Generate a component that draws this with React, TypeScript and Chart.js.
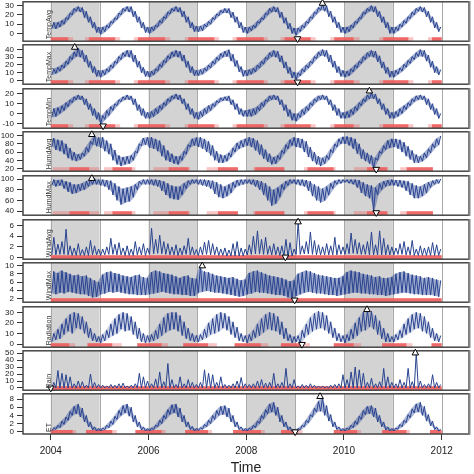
import React, { useEffect, useRef } from "react";
import { Chart, registerables } from "chart.js";

Chart.register(...registerables);

// ---------- categories ----------
const PANEL_NAMES = ["TempAvg", "TempMax", "TempMin", "HumdAvg", "HumdMax", "WindAvg", "WindMax", "Radiation", "Rain", "ET"];
const START_YEAR = 2004;
const X_TICKS = [2004, 2006, 2008, 2010, 2012];
const YEAR_LINES = [2004, 2005, 2006, 2007, 2008, 2009, 2010, 2011, 2012];
const SHADED_YEARS = [[2004, 2005], [2006, 2007], [2008, 2009], [2010, 2011]];

// y tick labels per panel
const Y_TICKS = [
  [0, 10, 20, 30],
  [0, 10, 20, 30, 40],
  [-10, 0, 10, 20],
  [20, 40, 60, 80, 100],
  [40, 60, 80, 100],
  [0, 2, 4, 6],
  [2, 4, 6, 8, 10],
  [0, 10, 20, 30],
  [0, 10, 20, 30, 40, 50],
  [0, 2, 4, 6, 8],
];
const Y_MIN = [-8.27, -5, -15.0, 13.7, 32.25, -0.31, 1.06, -3.0, -3.16, -0.55];
const Y_MAX = [34.1, 46.25, 25.2, 109.1, 106.1, 7.08, 10.7, 35.2, 53.2, 9.28];

// ---------- monthly low / high readings, Jan 2004 .. Dec 2011 ----------
const tempAvgLo = [
  5, 5, 7, 10, 15, 20, 24, 23, 17, 12, 6, 1,
  -1, 2, 6, 11, 15, 20, 24, 23, 18, 12, 6, 1,
  0, 3, 7, 11, 16, 21, 24, 23, 18, 12, 6, 2,
  2, 3, 7, 10, 15, 19, 22, 22, 17, 12, 6, 1,
  0, 3, 6, 11, 15, 20, 23, 23, 17, 11, 5, 0,
  -2, 2, 6, 11, 16, 21, 25, 24, 18, 12, 6, 1,
  0, 2, 6, 11, 16, 21, 24, 23, 18, 12, 6, 0,
  0, 3, 7, 11, 16, 20, 24, 23, 18, 12, 6, 2,
];
const tempAvgHi = [
  12, 12, 14, 17, 22, 27, 29, 28, 24, 18, 12, 7,
  7, 9, 13, 17, 22, 27, 29, 29, 24, 18, 12, 7,
  7, 9, 14, 18, 23, 27, 29, 28, 24, 18, 12, 8,
  8, 10, 13, 17, 21, 25, 27, 27, 23, 18, 12, 7,
  7, 9, 13, 17, 22, 27, 29, 28, 23, 17, 11, 6,
  6, 9, 13, 18, 23, 28, 31, 30, 24, 18, 12, 7,
  7, 9, 13, 17, 23, 27, 30, 29, 24, 18, 12, 7,
  7, 10, 14, 18, 23, 27, 29, 28, 24, 18, 12, 7,
];
const tempMaxLo = [
  7, 9, 12, 16, 21, 27, 31, 30, 24, 17, 10, 5,
  4, 7, 11, 16, 22, 27, 31, 30, 24, 17, 10, 5,
  4, 7, 12, 17, 23, 28, 31, 30, 25, 17, 10, 6,
  6, 8, 12, 16, 21, 26, 30, 31, 25, 18, 11, 5,
  6, 8, 11, 16, 21, 27, 31, 30, 24, 16, 9, 3,
  1, 6, 11, 16, 22, 28, 32, 31, 24, 17, 10, 5,
  4, 6, 11, 16, 22, 27, 31, 30, 24, 16, 9, 4,
  4, 8, 12, 17, 22, 27, 31, 31, 25, 17, 10, 7,
];
const tempMaxHi = [
  15, 17, 20, 25, 31, 37, 42, 39, 33, 25, 18, 13,
  13, 15, 20, 25, 31, 36, 39, 39, 33, 25, 17, 12,
  12, 15, 21, 26, 32, 37, 39, 38, 33, 25, 18, 13,
  14, 16, 20, 25, 30, 35, 38, 40, 34, 26, 18, 13,
  14, 16, 20, 25, 30, 36, 39, 38, 32, 24, 17, 11,
  10, 15, 20, 25, 31, 37, 40, 39, 33, 25, 18, 13,
  12, 15, 20, 25, 31, 36, 39, 38, 32, 24, 17, 12,
  13, 16, 21, 26, 31, 36, 40, 39, 33, 25, 18, 14,
];
const tempMinLo = [
  -4, -3, 0, 3, 7, 11, 14, 14, 9, 4, -2, -6,
  -11, -6, -2, 3, 8, 12, 14, 14, 9, 3, -2, -5,
  -5, -3, 0, 4, 8, 12, 15, 14, 10, 4, -1, -5,
  -6, -3, 0, 3, 7, 11, 13, 13, 9, 4, -1, -3,
  -3, -3, -1, 3, 7, 12, 14, 14, 9, 3, -3, -7,
  -8, -4, -1, 3, 8, 12, 14, 14, 9, 3, -2, -5,
  -5, -4, -1, 3, 8, 12, 15, 15, 10, 4, -1, -5,
  -5, -3, 0, 4, 8, 12, 14, 14, 9, 4, -1, -5,
];
const tempMinHi = [
  5, 6, 8, 11, 14, 17, 19, 18, 15, 10, 5, 1,
  -2, 3, 7, 10, 14, 17, 19, 18, 15, 9, 5, 1,
  2, 5, 8, 11, 15, 18, 20, 19, 15, 10, 5, 1,
  2, 5, 8, 10, 13, 16, 17, 18, 14, 10, 5, 3,
  4, 5, 7, 11, 14, 18, 19, 18, 14, 9, 4, 0,
  0, 4, 7, 11, 15, 18, 19, 18, 14, 9, 5, 1,
  2, 4, 7, 11, 15, 19, 21, 20, 15, 10, 5, 1,
  2, 5, 8, 11, 15, 18, 19, 18, 15, 10, 5, 0,
];
const humdAvgLo = [
  72, 65, 62, 55, 45, 40, 38, 42, 50, 60, 78, 74,
  70, 62, 55, 40, 30, 26, 30, 32, 40, 58, 75, 78,
  70, 68, 62, 50, 40, 36, 32, 30, 40, 55, 72, 76,
  72, 68, 60, 52, 40, 34, 34, 38, 48, 60, 68, 72,
  76, 72, 64, 54, 44, 36, 30, 32, 42, 56, 68, 76,
  72, 70, 60, 48, 38, 30, 26, 32, 42, 58, 72, 80,
  80, 76, 68, 56, 44, 38, 32, 20, 40, 56, 66, 70,
  72, 68, 60, 50, 42, 34, 34, 38, 46, 58, 70, 78,
];
const humdAvgHi = [
  94, 90, 88, 80, 70, 60, 55, 58, 72, 86, 100, 95,
  96, 88, 80, 65, 52, 48, 50, 52, 62, 80, 94, 96,
  96, 92, 88, 76, 64, 56, 50, 50, 62, 78, 92, 95,
  96, 92, 86, 76, 62, 54, 52, 58, 70, 82, 88, 92,
  96, 94, 88, 78, 66, 56, 48, 52, 64, 78, 90, 96,
  94, 92, 86, 72, 60, 50, 46, 52, 66, 80, 92, 97,
  98, 96, 92, 80, 66, 58, 52, 46, 62, 76, 88, 92,
  92, 90, 84, 74, 64, 54, 50, 58, 68, 80, 92, 99,
];
const humdMaxLo = [
  88, 86, 88, 82, 76, 72, 74, 78, 80, 86, 90, 90,
  88, 86, 80, 70, 60, 52, 56, 58, 66, 80, 90, 90,
  90, 88, 86, 78, 70, 64, 62, 61, 70, 82, 90, 92,
  90, 88, 86, 82, 72, 66, 64, 68, 74, 84, 88, 90,
  92, 90, 86, 80, 70, 60, 50, 54, 66, 80, 88, 92,
  90, 88, 86, 78, 68, 60, 56, 60, 70, 82, 90, 92,
  94, 92, 90, 84, 74, 68, 64, 40, 70, 80, 86, 88,
  88, 86, 84, 78, 70, 64, 64, 68, 74, 84, 90, 92,
];
const humdMaxHi = [
  99, 98, 99, 96, 94, 90, 90, 92, 96, 99, 101, 99,
  99, 98, 97, 92, 86, 82, 84, 86, 90, 96, 99, 99,
  99, 99, 98, 96, 92, 88, 86, 86, 92, 97, 99, 99,
  99, 99, 98, 97, 94, 90, 86, 90, 94, 98, 99, 99,
  99, 99, 98, 96, 92, 86, 80, 84, 90, 96, 99, 99,
  99, 99, 98, 96, 90, 86, 82, 86, 92, 97, 99, 99,
  99, 99, 99, 98, 94, 90, 88, 84, 92, 96, 98, 99,
  98, 98, 97, 96, 92, 88, 86, 90, 94, 97, 99, 100,
];
const windAvgLo = [
  0.5, 0.5, 0.6, 0.6, 0.5, 0.4, 0.4, 0.4, 0.4, 0.4, 0.5, 0.5,
  0.4, 0.5, 0.6, 0.6, 0.5, 0.5, 0.4, 0.4, 0.4, 0.5, 0.5, 0.4,
  0.6, 0.7, 0.8, 0.7, 0.6, 0.5, 0.5, 0.4, 0.5, 0.6, 0.5, 0.5,
  0.4, 0.5, 0.6, 0.5, 0.5, 0.4, 0.4, 0.3, 0.3, 0.3, 0.3, 0.3,
  0.5, 0.6, 0.7, 0.7, 0.6, 0.6, 0.5, 0.5, 0.4, 0.2, 0.1, 0.3,
  0.6, 0.6, 0.7, 0.7, 0.6, 0.5, 0.5, 0.5, 0.5, 0.5, 0.5, 0.6,
  0.6, 0.7, 0.8, 0.7, 0.6, 0.6, 0.5, 0.5, 0.5, 0.5, 0.5, 0.5,
  0.5, 0.6, 0.6, 0.5, 0.5, 0.4, 0.4, 0.4, 0.4, 0.4, 0.4, 0.4,
];
const windAvgHi = [
  3.8, 2.5, 3.0, 5.3, 2.2, 1.8, 2.6, 1.5, 2.0, 3.2, 2.2, 1.6,
  1.6, 2.0, 3.6, 2.5, 2.8, 1.8, 2.2, 1.6, 3.0, 2.0, 2.6, 1.8,
  5.5, 3.4, 4.2, 3.0, 2.6, 2.0, 2.4, 1.8, 2.2, 3.6, 2.0, 1.5,
  2.0, 2.9, 3.2, 2.6, 2.0, 1.6, 1.8, 1.4, 2.6, 3.0, 1.8, 1.6,
  2.4, 4.0, 5.0, 3.4, 3.8, 2.2, 2.6, 2.0, 2.2, 3.4, 2.8, 1.6,
  6.7, 2.2, 3.0, 4.8, 3.2, 2.4, 2.0, 2.6, 2.2, 3.8, 2.4, 2.0,
  2.6, 4.6, 3.4, 2.8, 2.4, 3.0, 4.8, 2.4, 5.0, 3.6, 2.4, 2.0,
  1.8, 2.6, 3.0, 2.0, 3.2, 1.6, 2.2, 1.8, 2.0, 2.8, 2.4, 1.6,
];
const windMaxLo = [
  3.2, 3.0, 3.4, 3.2, 3.6, 3.4, 3.2, 3.0, 3.0, 2.6, 2.2, 2.4,
  3.0, 3.2, 3.6, 3.4, 3.6, 3.4, 3.2, 3.0, 3.0, 2.8, 2.8, 2.8,
  3.0, 3.2, 3.4, 3.6, 3.4, 3.2, 3.0, 3.0, 2.8, 2.8, 2.6, 2.6,
  3.4, 3.6, 3.8, 3.6, 3.4, 3.4, 3.2, 3.0, 2.8, 2.6, 2.4, 2.6,
  3.0, 3.2, 3.6, 3.4, 3.4, 3.2, 3.0, 2.8, 2.8, 2.6, 2.2, 1.8,
  2.6, 3.0, 3.4, 3.6, 3.4, 3.2, 3.2, 3.0, 2.8, 2.8, 2.6, 2.8,
  3.0, 3.2, 3.4, 3.4, 3.2, 3.2, 3.0, 3.0, 2.8, 2.8, 2.6, 2.8,
  3.0, 3.2, 3.4, 3.4, 3.2, 3.0, 3.0, 2.8, 2.8, 2.8, 2.6, 2.4,
];
const windMaxHi = [
  8.6, 8.2, 8.8, 8.4, 8.0, 7.6, 7.8, 7.4, 7.6, 7.0, 6.4, 6.0,
  7.8, 8.4, 8.6, 8.2, 8.0, 7.6, 7.4, 7.2, 7.6, 7.8, 7.2, 7.0,
  8.4, 8.8, 8.6, 8.2, 8.0, 7.8, 7.4, 7.0, 7.4, 7.6, 7.0, 6.8,
  9.9, 8.6, 8.4, 8.0, 7.6, 7.4, 7.2, 7.0, 7.2, 6.8, 6.4, 6.6,
  8.2, 8.6, 8.8, 8.4, 8.0, 7.6, 7.4, 7.2, 7.0, 6.6, 6.2, 6.4,
  8.0, 8.4, 8.8, 8.6, 8.2, 7.8, 7.6, 7.4, 7.2, 7.0, 7.0, 7.4,
  8.4, 8.8, 8.6, 8.4, 8.0, 7.8, 7.6, 7.2, 7.4, 7.0, 7.0, 7.2,
  8.0, 8.4, 8.6, 8.2, 7.8, 7.6, 7.4, 7.0, 7.2, 7.0, 6.6, 6.4,
];
const radiationLo = [
  2, 4, 5, 9, 12, 10, 15, 14, 10, 6, 3, 2,
  1, 3, 6, 8, 10, 14, 12, 13, 9, 5, 2, 1,
  2, 3, 5, 8, 11, 13, 14, 12, 8, 5, 3, 2,
  2, 4, 6, 9, 10, 12, 15, 13, 9, 6, 3, 2,
  1, 3, 6, 8, 11, 14, 13, 12, 9, 5, 3, 1,
  2, 0, 6, 9, 12, 14, 15, 13, 10, 6, 3, 2,
  1, 3, 5, 8, 12, 13, 16, 14, 9, 5, 2, 2,
  2, 4, 6, 9, 11, 14, 15, 12, 10, 6, 3, 2,
];
const radiationHi = [
  10, 14, 19, 24, 28, 30, 29, 26, 21, 15, 10, 7,
  9, 13, 19, 24, 28, 30, 29, 26, 21, 15, 10, 8,
  9, 13, 19, 25, 29, 30, 30, 27, 21, 15, 10, 8,
  9, 14, 20, 24, 28, 30, 29, 26, 21, 16, 10, 8,
  9, 13, 19, 24, 28, 30, 29, 26, 21, 15, 9, 7,
  8, 13, 19, 25, 29, 31, 30, 27, 21, 15, 10, 8,
  9, 14, 20, 25, 30, 32, 31, 27, 22, 15, 10, 7,
  9, 13, 19, 24, 28, 30, 29, 26, 21, 15, 10, 8,
];
const rainLo = [
  0, 0, 0, 0, 0, 0, 0, 0, 0, 0, 0, 0,
  0, 0, 0, 0, 0, 0, 0, 0, 0, 0, 0, 0,
  0, 0, 0, 0, 0, 0, 0, 0, 0, 0, 0, 0,
  0, 0, 0, 0, 0, 0, 0, 0, 0, 0, 0, 0,
  0, 0, 0, 0, 0, 0, 0, 0, 0, 0, 0, 0,
  0, 0, 0, 0, 0, 0, 0, 0, 0, 0, 0, 0,
  0, 0, 0, 0, 0, 0, 0, 0, 0, 0, 0, 0,
  0, 0, 0, 0, 0, 0, 0, 0, 0, 0, 0, 0,
];
const rainHi = [
  8, 25, 21, 19, 16, 6, 10, 9, 4, 20, 8, 5,
  4, 3, 5, 4, 6, 7, 3, 4, 6, 21, 16, 10,
  6, 13, 23, 9, 35, 12, 5, 16, 6, 12, 8, 5,
  8, 26, 21, 19, 8, 16, 5, 4, 6, 10, 15, 6,
  5, 6, 10, 12, 7, 8, 21, 6, 8, 28, 6, 12,
  3, 5, 4, 6, 4, 3, 3, 2, 4, 5, 6, 19,
  12, 23, 30, 26, 21, 8, 14, 6, 9, 28, 16, 8,
  6, 12, 8, 28, 9, 50, 10, 5, 6, 19, 8, 5,
];
const etLo = [
  0.2, 0.6, 1.0, 1.8, 2.8, 4.0, 4.4, 3.6, 2.4, 1.2, 0.4, 0.2,
  0.2, 0.5, 1.0, 1.8, 3.0, 4.0, 4.6, 3.8, 2.4, 1.2, 0.4, 0.2,
  0.2, 0.5, 1.2, 2.0, 3.2, 4.2, 4.6, 3.6, 2.4, 1.2, 0.5, 0.2,
  0.3, 0.6, 1.2, 2.0, 3.0, 4.0, 4.2, 3.6, 2.4, 1.2, 0.5, 0.2,
  0.2, 0.5, 1.0, 2.0, 3.2, 4.4, 4.8, 4.0, 2.4, 1.2, 0.4, 0.1,
  0.0, 0.5, 1.2, 2.2, 3.6, 4.8, 5.0, 4.0, 2.6, 1.2, 0.5, 0.2,
  0.2, 0.5, 1.0, 1.8, 3.0, 4.2, 4.4, 3.6, 2.4, 1.2, 0.4, 0.2,
  0.2, 0.6, 1.2, 2.2, 3.4, 4.6, 4.8, 4.0, 2.6, 1.4, 0.5, 0.2,
];
const etHi = [
  1.0, 1.6, 2.6, 3.6, 5.0, 6.2, 6.8, 5.8, 4.0, 2.4, 1.2, 0.8,
  0.9, 1.6, 2.6, 3.8, 5.2, 6.4, 6.8, 6.0, 4.0, 2.4, 1.2, 0.8,
  0.9, 1.6, 2.8, 4.0, 5.4, 6.6, 6.8, 5.8, 4.0, 2.4, 1.3, 0.8,
  1.0, 1.8, 2.8, 4.0, 5.2, 6.2, 6.4, 5.8, 4.0, 2.4, 1.2, 0.8,
  0.9, 1.6, 2.6, 4.0, 5.4, 6.8, 7.2, 6.0, 4.0, 2.4, 1.2, 0.6,
  0.8, 1.6, 2.8, 4.2, 5.8, 7.4, 8.4, 6.4, 4.2, 2.4, 1.2, 0.8,
  0.9, 1.6, 2.6, 3.8, 5.2, 6.2, 6.4, 5.8, 4.0, 2.4, 1.2, 0.8,
  0.9, 1.8, 2.8, 4.2, 5.6, 6.8, 7.2, 6.2, 4.2, 2.6, 1.2, 0.6,
];

const SERIES_LO = [tempAvgLo, tempMaxLo, tempMinLo, humdAvgLo, humdMaxLo, windAvgLo, windMaxLo, radiationLo, rainLo, etLo];
const SERIES_HI = [tempAvgHi, tempMaxHi, tempMinHi, humdAvgHi, humdMaxHi, windAvgHi, windMaxHi, radiationHi, rainHi, etHi];

// extremes (max = up triangle, min = down triangle)
const MAX_X = [2009.56, 2004.49, 2010.52, 2004.84, 2004.84, 2009.06, 2007.10, 2010.47, 2011.46, 2009.51];
const MAX_Y = [32.4, 42.9, 22.9, 102.3, 101, 6.67, 9.93, 32.5, 50, 8.6];
const MIN_X = [2009.05, 2009.05, 2005.07, 2010.66, 2010.66, 2008.80, 2008.99, 2009.14, 2004.0, 2009.0];
const MIN_Y = [-5.5, -2.1, -12.6, 18.4, 37.1, 0.1, 1.6, -0.3, 0, 0];

// rug intervals (years)
const tempRug = [[2004.0, 2004.36], [2004.78, 2005.32], [2005.78, 2006.34], [2006.81, 2007.35], [2007.8, 2008.36], [2008.78, 2009.32], [2009.8, 2010.2], [2010.8, 2011.32], [2011.8, 2012.0]];
const tempRugSparse = [[2004.36, 2004.46], [2004.7, 2004.78], [2005.32, 2005.42], [2005.7, 2005.78], [2006.34, 2006.44], [2006.74, 2006.81], [2007.35, 2007.44], [2007.72, 2007.8], [2008.36, 2008.44], [2008.7, 2008.78], [2009.32, 2009.42], [2009.72, 2009.8], [2010.2, 2010.32], [2010.72, 2010.8], [2011.32, 2011.42], [2011.72, 2011.8]];
const humdRug = [[2004.38, 2004.79], [2005.26, 2005.66], [2006.41, 2006.82], [2007.42, 2007.83], [2008.18, 2008.78], [2009.25, 2009.79], [2010.47, 2010.88], [2011.28, 2011.82]];
const humdRugSparse = [[2004.04, 2004.38], [2004.79, 2004.99], [2005.09, 2005.26], [2005.66, 2005.73], [2006.1, 2006.41], [2006.82, 2006.85], [2007.19, 2007.42], [2008.14, 2008.18], [2009.18, 2009.25], [2009.79, 2009.83], [2010.2, 2010.47], [2010.88, 2010.91], [2011.15, 2011.28]];
const fullRug = [[2004.0, 2012.0]];
const noRug: number[][] = [];
const radRug = [[2004.0, 2004.38], [2004.75, 2005.26], [2005.77, 2006.27], [2006.71, 2007.22], [2007.76, 2008.3], [2008.71, 2009.12], [2009.79, 2010.2], [2010.78, 2011.28], [2011.79, 2012.0]];
const radRugSparse = [[2004.38, 2004.5], [2005.26, 2005.45], [2006.27, 2006.4], [2007.22, 2007.4], [2008.3, 2008.45], [2009.12, 2009.3], [2010.2, 2010.35], [2011.28, 2011.4]];
const etRug = [[2004.0, 2004.45], [2004.72, 2005.26], [2005.73, 2006.27], [2006.75, 2007.22], [2007.73, 2008.3], [2008.71, 2009.05], [2009.79, 2010.27], [2010.78, 2011.28], [2011.76, 2012.0]];
const etRugSparse = [[2004.45, 2004.52], [2005.26, 2005.35], [2006.27, 2006.35], [2007.22, 2007.3], [2008.3, 2008.38], [2009.05, 2009.15], [2010.27, 2010.35], [2011.28, 2011.35]];

const RUG_DENSE = [tempRug, tempRug, tempRug, humdRug, humdRug, fullRug, fullRug, radRug, fullRug, etRug];
const RUG_SPARSE = [tempRugSparse, tempRugSparse, tempRugSparse, humdRugSparse, humdRugSparse, noRug, noRug, radRugSparse, noRug, etRugSparse];

// ---------- layout / style ----------
const W = 474;
const H = 474;
const LAST_CANVAS_BOTTOM = 475;
const PANEL_TOP = [1, 44, 88, 131, 175, 219, 262, 306, 350, 393];
const PANEL_BOTTOM = [42, 85, 129, 172, 216, 260, 303, 348, 391, 434];
const PAD = 7;
const AXIS_W = 23;
const RIGHT_PAD = 1.5;
const X_MIN = 2003.4315;
const X_MAX = 2012.558;
const FONT = '"Liberation Sans", Arial, Helvetica, sans-serif';
const LINE_COLOR = "#27428f";
const BAND_ALPHA = [0.45, 0.45, 0.45, 0.4, 0.4, 0, 0.45, 0.22, 0, 0.4];

const decorPlugin = {
  id: "panelDecor",
  beforeDatasetsDraw(chart: any, _args: any, opts: any) {
    const { ctx, chartArea: a, scales } = chart;
    const xs = scales.x;
    ctx.save();
    ctx.beginPath();
    ctx.rect(a.left, a.top, a.right - a.left, a.bottom - a.top);
    ctx.clip();
    ctx.fillStyle = "#d3d3d3";
    for (const [s, e] of SHADED_YEARS) {
      const x1 = xs.getPixelForValue(s);
      const x2 = xs.getPixelForValue(e);
      ctx.fillRect(x1, a.top, x2 - x1, a.bottom - a.top);
    }
    ctx.strokeStyle = "#a9a9a9";
    ctx.lineWidth = 1;
    for (const yv of YEAR_LINES) {
      const px = Math.round(xs.getPixelForValue(yv)) + 0.5;
      ctx.beginPath();
      ctx.moveTo(px, a.top);
      ctx.lineTo(px, a.bottom);
      ctx.stroke();
    }
    const rugH = 4;
    ctx.fillStyle = "rgba(240, 90, 90, 0.35)";
    for (const [s, e] of opts.sparse) {
      const x1 = xs.getPixelForValue(s);
      const x2 = xs.getPixelForValue(e);
      ctx.fillRect(x1, a.bottom - rugH, x2 - x1, rugH);
    }
    ctx.fillStyle = "rgba(240, 90, 90, 0.9)";
    for (const [s, e] of opts.dense) {
      const x1 = xs.getPixelForValue(s);
      const x2 = xs.getPixelForValue(e);
      ctx.fillRect(x1, a.bottom - rugH, x2 - x1, rugH);
    }
    ctx.restore();

    ctx.save();
    ctx.strokeStyle = "#474747";
    ctx.lineWidth = 1.5;
    ctx.strokeRect(a.left, a.top, a.right - a.left, a.bottom - a.top);
    ctx.strokeStyle = "#858585";
    ctx.lineWidth = 2;
    ctx.beginPath();
    ctx.moveTo(a.right + 0.5, a.top - 0.75);
    ctx.lineTo(a.right + 0.5, a.bottom + 0.75);
    ctx.stroke();
    ctx.restore();
  },
  afterDraw(chart: any, _args: any, opts: any) {
    const { ctx, chartArea: a } = chart;
    ctx.save();
    ctx.translate(a.left + 26, a.bottom - 2);
    ctx.rotate(-Math.PI / 2);
    ctx.font = `7px ${FONT}`;
    ctx.fillStyle = "#333";
    ctx.textAlign = "left";
    ctx.textBaseline = "middle";
    ctx.fillText(opts.label, 0, 0);
    ctx.restore();
  },
};

function buildZigzag(lo: number[], hi: number[]) {
  const pts: { x: number; y: number }[] = [];
  for (let i = 0; i < lo.length; i++) {
    pts.push({ x: START_YEAR + (i + 0.25) / 12, y: lo[i] });
    pts.push({ x: START_YEAR + (i + 0.75) / 12, y: hi[i] });
  }
  return pts;
}

function buildEdge(vals: number[]) {
  return vals.map((v, i) => ({ x: START_YEAR + (i + 0.5) / 12, y: v }));
}

export default function App() {
  const refs = useRef<(HTMLCanvasElement | null)[]>([]);
  const last = PANEL_NAMES.length - 1;

  useEffect(() => {
    Chart.defaults.font.family = FONT;
    const charts = PANEL_NAMES.map((name, i) => {
      const canvas = refs.current[i] as HTMLCanvasElement;
      const isLast = i === last;
      const bandColor = `rgba(45, 70, 150, ${BAND_ALPHA[i]})`;
      return new Chart(canvas, {
        type: "line",
        data: {
          datasets: [
            {
              data: buildEdge(SERIES_LO[i]),
              borderWidth: 0,
              borderColor: "rgba(0,0,0,0)",
              pointRadius: 0,
              tension: 0,
              fill: false,
              order: 4,
            },
            {
              data: buildEdge(SERIES_HI[i]),
              borderWidth: 0,
              borderColor: "rgba(0,0,0,0)",
              backgroundColor: bandColor,
              pointRadius: 0,
              tension: 0,
              fill: "-1",
              order: 3,
            },
            {
              data: buildZigzag(SERIES_LO[i], SERIES_HI[i]),
              borderColor: LINE_COLOR,
              borderWidth: 1,
              pointRadius: 0,
              tension: 0,
              fill: false,
              order: 2,
            },
            {
              data: [
                { x: MAX_X[i], y: MAX_Y[i] },
                { x: MIN_X[i], y: MIN_Y[i] },
              ],
              showLine: false,
              pointStyle: "triangle",
              pointRadius: 3.8,
              pointRotation: [0, 180],
              pointBackgroundColor: "#ffffff",
              pointBorderColor: "#000000",
              pointBorderWidth: 1,
              clip: false,
              order: 1,
            } as any,
          ],
        },
        options: {
          animation: false,
          responsive: false,
          devicePixelRatio: 1,
          events: [],
          layout: { padding: { top: PAD, bottom: isLast ? 0 : PAD, left: 0, right: RIGHT_PAD } },
          plugins: {
            legend: { display: false },
            tooltip: { enabled: false },
            filler: { propagate: false },
            panelDecor: { label: name, dense: RUG_DENSE[i], sparse: RUG_SPARSE[i] },
          } as any,
          scales: {
            x: {
              type: "linear",
              min: X_MIN,
              max: X_MAX,
              display: isLast,
              afterBuildTicks: (s: any) => {
                s.ticks = X_TICKS.map((v) => ({ value: v }));
              },
              afterFit: (s: any) => {
                s.height = isLast ? LAST_CANVAS_BOTTOM - PANEL_BOTTOM[last] : 0;
              },
              grid: { drawOnChartArea: false, drawTicks: true, tickLength: 6, color: "#333" },
              border: { display: false },
              ticks: {
                autoSkip: false,
                maxRotation: 0,
                padding: 5,
                color: "#222",
                font: { size: 10 },
                callback: (v: any) => String(v),
              },
              title: {
                display: true,
                text: "Time",
                color: "#222",
                font: { size: 14, lineHeight: 1 },
                padding: { top: 0, bottom: 0 },
              },
            },
            y: {
              type: "linear",
              min: Y_MIN[i],
              max: Y_MAX[i],
              afterBuildTicks: (s: any) => {
                s.ticks = Y_TICKS[i].map((v) => ({ value: v }));
              },
              afterFit: (s: any) => {
                s.width = AXIS_W;
              },
              grid: { drawOnChartArea: false, drawTicks: true, tickLength: 6, color: "#333" },
              border: { display: false },
              ticks: {
                autoSkip: false,
                padding: 3,
                color: "#222",
                font: { size: 8 },
                callback: (v: any) => String(v),
              },
            },
          },
        },
        plugins: [decorPlugin],
      } as any);
    });
    return () => charts.forEach((c) => c.destroy());
  }, []);

  return (
    <div style={{ position: "fixed", left: 0, top: 0, width: W, height: H, background: "#fff", overflow: "hidden" }}>
      {PANEL_NAMES.map((name, i) => {
        const top = PANEL_TOP[i] - PAD;
        const h = i === last ? LAST_CANVAS_BOTTOM - top : PANEL_BOTTOM[i] - PANEL_TOP[i] + 2 * PAD;
        return (
          <canvas
            key={name}
            ref={(el) => {
              refs.current[i] = el;
            }}
            width={W}
            height={h}
            style={{ position: "absolute", left: 0, top, display: "block" }}
          />
        );
      })}
    </div>
  );
}
